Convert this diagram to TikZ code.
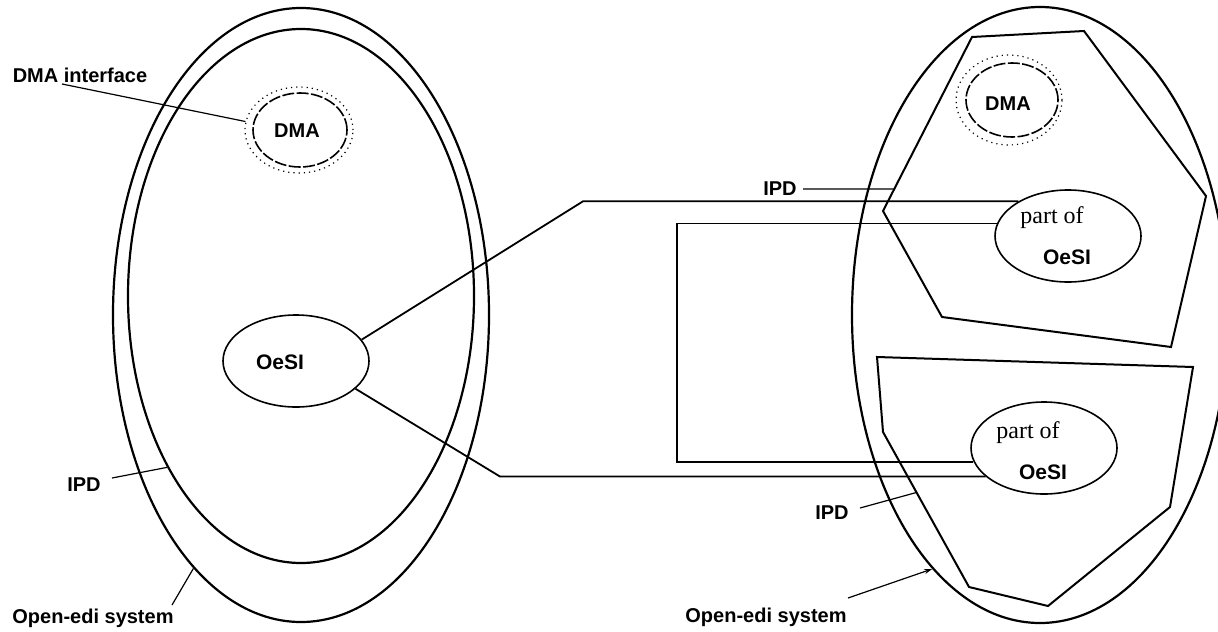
\documentclass[tikz,border=0pt]{standalone}
\usepackage{fontspec}
\setmainfont{Liberation Serif}
\newfontfamily\labelfont{Liberation Sans}
\usetikzlibrary{arrows.meta,shapes.geometric,calc}
\tikzset{>=Stealth,
 lbl/.style={font=\labelfont\bfseries\fontsize{10}{12}\selectfont,inner sep=0pt},
 oesilbl/.style={font=\labelfont\bfseries\fontsize{10.5}{12}\selectfont,inner sep=0pt},
 partlbl/.style={font=\fontsize{12}{14}\selectfont,inner sep=0pt},
 sysring/.style={ellipse,draw,line width=1.1pt,inner sep=0pt},
 oval/.style={ellipse,draw,line width=.8pt,inner sep=0pt,minimum width=73pt,minimum height=46pt},
 dmanode/.style={ellipse,draw,line width=.8pt,dash pattern=on 6pt off 1.2pt,inner sep=0pt},
 dmaif/.style={ellipse,draw,line width=.6pt,dotted,inner sep=0pt},
 link/.style={draw,line width=.9pt},
 leader/.style={draw,line width=.6pt},
 ipdpoly/.style={draw,line width=1pt,line join=miter}}
\begin{document}
\begin{tikzpicture}[x=.5pt,y=-.5pt]
\useasboundingbox (0,0) rectangle (1218,631);
% left open-edi system
\node[sysring,minimum width=188pt,minimum height=307pt] (sysL) at (301,315) {};
\node[sysring,minimum width=173pt,minimum height=267pt] (ipdL) at (301,296) {};
\node[dmaif,minimum width=54pt,minimum height=43pt] (dmaLif) at (299,130) {};
\node[dmanode,minimum width=47pt,minimum height=37pt] (dmaL) at (300,130) {};
\node[lbl] (dmaLtxt) at (297,131) {DMA};
\node[oval] (oesiL) at (296,361) {};
\node[oesilbl] (oesiLtxt) at (280,362) {OeSI};
% right open-edi system
\node[sysring,minimum width=188pt,minimum height=308pt] (sysR) at (1040,315) {};
\foreach \n/\p in {1/{972,37},2/{1084,31},3/{1206,196},4/{1171,347},5/{942,317},6/{883,211}}
 \coordinate (pa\n) at (\p);
\foreach \n/\p in {1/{877,357},2/{1193,367},3/{1170,507},4/{1048,606},5/{969,587},6/{883,432}}
 \coordinate (pb\n) at (\p);
\draw[ipdpoly] (pa1)--(pa2)--(pa3)--(pa4)--(pa5)--(pa6)--cycle;
\draw[ipdpoly] (pb1)--(pb2)--(pb3)--(pb4)--(pb5)--(pb6)--cycle;
\node[dmaif,minimum width=53pt,minimum height=45pt] (dmaRif) at (1009,100) {};
\node[dmanode,minimum width=46pt,minimum height=37pt] (dmaR) at (1012,100) {};
\node[lbl] (dmaRtxt) at (1008,104) {DMA};
\node[oval] (partA) at (1068,236) {};
\node[partlbl] (partAtop) at (1052,218) {part of};
\node[oesilbl] (partAbot) at (1067,257) {OeSI};
\node[oval] (partB) at (1044,448) {};
\node[partlbl] (partBtop) at (1028,433) {part of};
\node[oesilbl] (partBbot) at (1043,472) {OeSI};
% connections
\draw[link] (oesiL.18) -- (583,0 |- partA.145) -- (partA.145);
\draw[link] (oesiL.-25) -- (500,0 |- partB.206) -- (partB.206);
\draw[link] (partA.170) -- (677,0 |- partA.170) -- (677,0 |- partB.191) -- (partB.191);
% labels
\node[lbl] (dmaiftxt) at (80,75) {DMA interface};
\draw[leader] (62,84) -- (dmaLif.171);
\node[lbl] (ipdLtxt) at (84,485) {IPD};
\draw[leader] (112,478) -- (ipdL.232);
\node[lbl] (sysLtxt) at (93,618) {Open-edi system};
\draw[leader] (172,605) -- (sysL.247);
\node[lbl] (ipdAtxt) at (780,189) {IPD};
\draw[leader] (ipdAtxt.east) ++(6,0) -- ($(pa6)!.126!(pa1)$);
\node[lbl] (ipdBtxt) at (832,513) {IPD};
\draw[leader] (860,508) -- ($(pb6)!.39!(pb5)$);
\node[lbl] (sysRtxt) at (766,617) {Open-edi system};
\draw[leader,-{Stealth[length=4pt,width=2.5pt]}] (848,598) -- (sysR.247);
\end{tikzpicture}
\end{document}
